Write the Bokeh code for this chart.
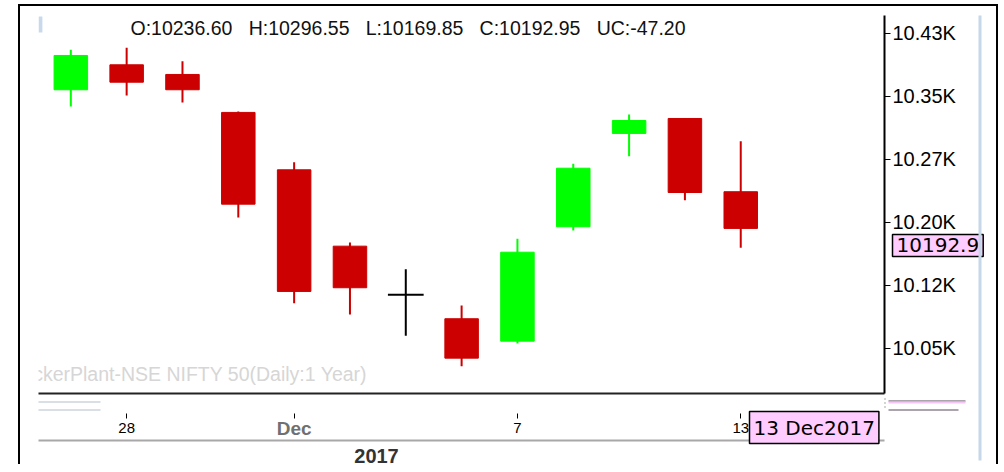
import math
from bokeh.plotting import figure
from bokeh.models import (Range1d, LinearAxis, FixedTicker, Label, ColumnDataSource,
                          BoxAnnotation)
from bokeh.core.properties import value
from bokeh.embed import file_html
from bokeh.resources import INLINE

# ---- data (NSE NIFTY 50, daily) ----
dates = ["2017-11-27", "2017-11-28", "2017-11-29", "2017-11-30", "2017-12-01",
         "2017-12-04", "2017-12-05", "2017-12-06", "2017-12-07", "2017-12-08",
         "2017-12-11", "2017-12-12", "2017-12-13"]
opens = [10358.0, 10387.7, 10376.2, 10331.0, 10262.7, 10171.8, 10113.9,
         10085.4, 10058.7, 10194.9, 10306.0, 10323.8, 10236.60]
highs = [10405.6, 10408.0, 10392.0, 10332.0, 10271.8, 10176.2, 10144.4,
         10101.2, 10180.6, 10269.9, 10328.6, 10324.5, 10296.55]
lows = [10338.1, 10351.2, 10342.9, 10206.0, 10103.9, 10090.5, 10065.1,
        10028.9, 10056.0, 10190.5, 10278.9, 10226.5, 10169.85]
closes = [10398.8, 10367.0, 10358.0, 10221.8, 10117.9, 10122.3, 10113.9,
          10038.5, 10164.6, 10264.6, 10321.4, 10235.7, 10192.95]
last_change = -47.20

y_ticks = [10050, 10125, 10200, 10275, 10350, 10425]
y_tick_labels = ["10.05K", "10.12K", "10.20K", "10.27K", "10.35K", "10.43K"]
x_tick_dates = ["2017-11-28", "2017-12-01", "2017-12-07", "2017-12-13"]
x_tick_labels = ["28", "Dec", "7", "13"]
year_label = "2017"
last_date_label = "13 Dec2017"
watermark = "TickerPlant-NSE NIFTY 50(Daily:1 Year)"

UP, DOWN, FLAT = "#00ff00", "#cc0000", "#000000"
FONT = "Liberation Sans"

# ---- geometry ----
W, H = 980, 460
ML, MR, MT, MB = 18, 116, 9, 73
X0, X1 = -0.579, 14.575
Y0, Y1 = 9996.4, 10446.4
xs = (X1 - X0) / (W - ML - MR)
ys = (Y1 - Y0) / (H - MT - MB)

idx = list(range(len(dates)))
colors = [UP if c > o else (DOWN if c < o else FLAT) for o, c in zip(opens, closes)]

body_i = [i for i in idx if opens[i] != closes[i]]
bodies = ColumnDataSource(dict(
    x=body_i,
    top=[max(opens[i], closes[i]) for i in body_i],
    bottom=[min(opens[i], closes[i]) for i in body_i],
    color=[colors[i] for i in body_i],
))
wicks = ColumnDataSource(dict(x=idx, low=lows, high=highs, color=colors))
doji_i = [i for i in idx if opens[i] == closes[i]]
doji = ColumnDataSource(dict(
    x0=[i - 0.32 for i in doji_i], x1=[i + 0.32 for i in doji_i],
    y=[opens[i] for i in doji_i],
))

p = figure(width=W, height=H, output_backend="svg", toolbar_location=None,
           x_range=Range1d(X0, X1), y_range=Range1d(Y0, Y1),
           y_axis_location="right", min_border_left=ML, min_border_top=MT,
           min_border_right=MR, min_border_bottom=MB)
p.styles = {"margin-left": "18px", "margin-top": "4px",
            "border-top": "2px solid black", "border-left": "2px solid black",
            "border-right": "2px solid black"}
p.outline_line_color = None
p.grid.visible = False
p.background_fill_color = "white"
p.border_fill_color = "white"

# watermark (clipped by the plot frame)
p.text(x=[5.31], y=[10020.0], text=[watermark], text_align="right",
       text_baseline="middle", text_font=value(FONT), text_font_size="19.5px",
       text_color="#d6d6d6")

p.segment(x0="x", y0="low", x1="x", y1="high", color="color", line_width=2, source=wicks)
p.vbar(x="x", width=0.6, top="top", bottom="bottom", fill_color="color",
       line_color="color", line_width=1, source=bodies)
p.segment(x0="x0", y0="y", x1="x1", y1="y", color=FLAT, line_width=2, source=doji)

# right price axis
ya = p.yaxis[0]
ya.ticker = FixedTicker(ticks=y_ticks)
ya.major_label_overrides = dict(zip(y_ticks, y_tick_labels))
ya.axis_line_color = "black"
ya.axis_line_width = 2
ya.major_tick_in = 0
ya.major_tick_out = 6
ya.major_tick_line_color = "black"
ya.minor_tick_line_color = None
ya.major_label_standoff = 2
ya.major_label_text_font = FONT
ya.major_label_text_font_size = "20px"
ya.major_label_text_color = "black"

# bottom date axis
x_ticks = [dates.index(d) for d in x_tick_dates]
xa = p.xaxis[0]
xa.ticker = FixedTicker(ticks=x_ticks)
xa.major_label_overrides = {t: ("" if lab == "Dec" else lab) for t, lab in zip(x_ticks, x_tick_labels)}
xa.axis_line_color = "#222222"
xa.axis_line_width = 2
xa.major_tick_in = -20
xa.major_tick_out = 25
xa.major_tick_line_color = "black"
xa.minor_tick_line_color = None
xa.major_label_standoff = 4
xa.major_label_text_font = FONT
xa.major_label_text_font_size = "15px"
xa.major_label_text_color = "black"
xa.axis_label = "\u00a0"
xa.axis_label_text_font_size = "2px"
xa.axis_label_standoff = 0

# second (year) axis line
ax2 = LinearAxis(ticker=FixedTicker(ticks=[]), axis_line_color="#a8a8a8",
                 axis_line_width=2, major_tick_in=0, major_tick_out=0,
                 minor_tick_line_color=None, major_label_text_font_size="1px")
p.add_layout(ax2, "below")

# small marker at the frame's top-left
p.add_layout(Label(x=0, y=361, x_units="screen", y_units="screen", text="\u00a0",
                   text_font_size="14px", background_fill_color="#c9d9ec",
                   text_baseline="bottom"))

# header OHLC text
o, h, l, c = opens[-1], highs[-1], lows[-1], closes[-1]
sp = "\u00a0\u00a0\u00a0"
header = f"O:{o:.2f}{sp}H:{h:.2f}{sp}L:{l:.2f}{sp}C:{c:.2f}{sp}UC:{last_change:.2f}"
p.add_layout(Label(x=92, y=366, x_units="screen", y_units="screen", text=header,
                   text_baseline="middle", text_font=FONT, text_font_size="19.5px",
                   text_color="#111111"))

# ---- transparent overlay covering the whole canvas (texts outside the frame) ----
q = figure(width=W, height=H, output_backend="svg", toolbar_location=None,
           x_range=Range1d(X0 - ML * xs, X1 + MR * xs),
           y_range=Range1d(Y0 - MB * ys, Y1 + MT * ys),
           x_axis_location=None, y_axis_location=None, min_border=0)
q.outline_line_color = None
q.grid.visible = False
q.background_fill_color = None
q.border_fill_color = None
q.styles = {"position": "absolute", "left": "20px", "top": "6px"}


def px(xc):  # canvas x pixel -> overlay x
    return X0 - ML * xs + xc * xs


def py(yc):  # canvas y pixel (from top) -> overlay y
    return Y1 + MT * ys - yc * ys


# month label
q.add_layout(Label(x=dates.index("2017-12-01"), y=38, x_units="data", y_units="screen",
                   text="Dec", text_align="center", text_baseline="middle",
                   text_font=FONT, text_font_size="19px", text_font_style="bold",
                   text_color="#707070"))
# year label
q.add_layout(Label(x=356, y=11, x_units="screen", y_units="screen", text=year_label,
                   text_align="center", text_baseline="middle",
                   text_font=FONT, text_font_size="20px",
                   text_font_style="bold", text_color="#333333"))
# last date box
q.add_layout(Label(x=729, y=39, x_units="screen", y_units="screen", text=last_date_label,
                   text_baseline="middle", text_font="DejaVu Sans", text_font_size="20px",
                   text_color="black", background_fill_color="#ffccff",
                   border_line_color="black", border_line_width=1.5, padding=4))
# last price box
price_txt = f"{math.floor(c * 10) / 10:.1f}"
q.add_layout(Label(x=872, y=c, x_units="screen", y_units="data", text=price_txt,
                   text_baseline="middle", y_offset=-17, text_font="DejaVu Sans",
                   text_font_size="20px", text_color="black",
                   background_fill_color="#ffccff", border_line_color="black",
                   border_line_width=1.5, padding=4))

# scroller decorations
for (l0, r0, t0, b0, col) in [(958, 961, 9, 454, "#c6d7ea"),
                              (18, 80, 395, 396, "#b5c0cc"), (18, 80, 403, 404, "#b5c0cc"),
                              (868, 945, 394, 395, "#5a4a5a"), (868, 945, 395, 397, "#f3c6f3"),
                              (868, 938, 403, 404, "#5a4a5a"),
                              (864, 865, 392, 393, "#555555"), (864, 865, 396, 397, "#555555"),
                              (864, 865, 400, 401, "#555555")]:
    q.add_layout(BoxAnnotation(left=px(l0), right=px(r0), top=py(t0), bottom=py(b0),
                               fill_color=col, fill_alpha=1.0, line_color=None))

open("out.html", "w").write(file_html([p, q], INLINE))
